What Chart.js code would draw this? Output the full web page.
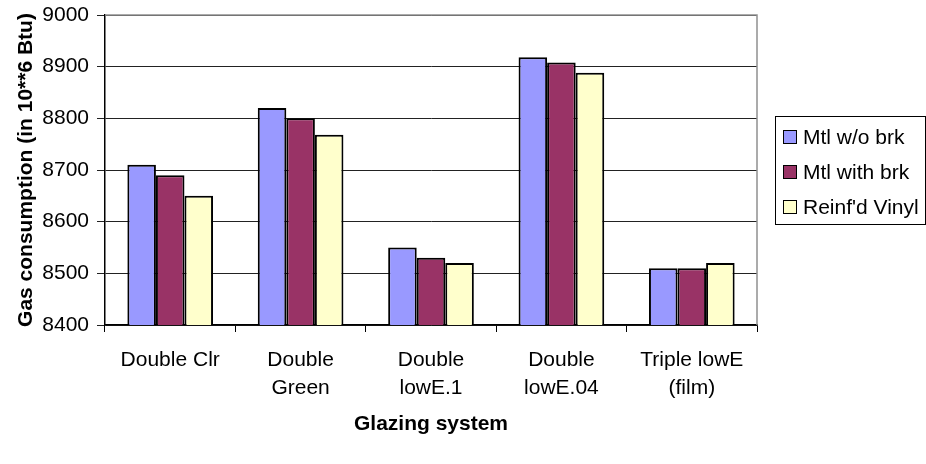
<!DOCTYPE html>
<html>
<head>
<meta charset="utf-8">
<script src="https://cdn.jsdelivr.net/npm/chart.js@4"></script>
<style>
  body { margin: 0; background: #fff; }
  #wrap { position: relative; width: 926px; height: 464px; overflow: hidden; }
  #legend {
    position: absolute; left: 775px; top: 116px; width: 151px; height: 109px;
    border: 1px solid #000; box-sizing: border-box; padding: 2px 0 0 7px;
    font: 21px "Liberation Sans", Arial, sans-serif; color: #000;
  }
  .row { display: flex; align-items: center; height: 35px; white-space: nowrap; }
  .sw { width: 12px; height: 12px; border: 1px solid #000; margin-right: 6px; flex: none; }
</style>
</head>
<body>
<div id="wrap">
  <canvas id="gasChart" width="926" height="464"></canvas>
  <div id="legend"></div>
</div>
<script>
// Data
const categories = [["Double Clr"], ["Double", "Green"], ["Double", "lowE.1"], ["Double", "lowE.04"], ["Triple lowE", "(film)"]];
const seriesNames = ["Mtl w/o brk", "Mtl with brk", "Reinf'd Vinyl"];
const mtlNoBrk = [8710, 8820, 8550, 8918, 8510];
const mtlWithBrk = [8690, 8800, 8530, 8908, 8510];
const reinfVinyl = [8650, 8768, 8520, 8888, 8520];
const yTicks = [8400, 8500, 8600, 8700, 8800, 8900, 9000];
const colors = ["#9999ff", "#993366", "#ffffcc"];

const font = "'Liberation Sans', Arial, sans-serif";

// plot area border on top/right like the original
const plotBorder = {
  id: "plotBorder",
  afterDraw(chart) {
    const { ctx, chartArea: a } = chart;
    ctx.save();
    ctx.strokeStyle = "#909090";
    ctx.lineWidth = 1.5;
    ctx.beginPath();
    ctx.moveTo(a.left, a.top);
    ctx.lineTo(a.right, a.top);
    ctx.lineTo(a.right, a.bottom);
    ctx.stroke();
    ctx.restore();
  }
};

function initGasChart() {
  const ctx = document.getElementById("gasChart").getContext("2d");
  new Chart(ctx, {
    type: "bar",
    data: {
      labels: categories,
      datasets: [mtlNoBrk, mtlWithBrk, reinfVinyl].map((d, i) => ({
        label: seriesNames[i],
        data: d,
        backgroundColor: colors[i],
        borderColor: "#000",
        borderWidth: 2,
        borderSkipped: false,
        categoryPercentage: 0.657,
        barPercentage: 1.0
      }))
    },
    options: {
      responsive: false,
      animation: false,
      layout: { padding: { top: 15, right: 169, left: 0, bottom: 19 } },
      plugins: {
        legend: { display: false },
        tooltip: { enabled: false }
      },
      scales: {
        x: {
          afterFit: axis => { axis.height = 120; },
          grid: { display: true, drawOnChartArea: false, offset: true, color: "#000", tickLength: 7, lineWidth: 1 },
          border: { color: "#000", width: 1.5 },
          ticks: { color: "#000", font: { family: font, size: 21, lineHeight: 1.3 }, padding: 15, maxRotation: 0 },
          title: { display: true, text: "Glazing system", color: "#000", font: { family: font, size: 21, weight: "bold" }, padding: { top: 0, bottom: 8 } }
        },
        y: {
          min: 8400, max: 9000,
          afterFit: axis => { axis.width = 105; axis.paddingTop = 0; axis.paddingBottom = 0; },
          afterBuildTicks: axis => { axis.ticks = yTicks.map(v => ({ value: v })); },
          grid: { color: "#222", tickLength: 8, lineWidth: 1 },
          border: { color: "#000", width: 1.5 },
          ticks: { color: "#000", font: { family: font, size: 21 }, padding: 8, callback: v => String(v) },
          title: { display: true, text: "Gas consumption (in 10**6 Btu)", color: "#000", font: { family: font, size: 21, weight: "bold" }, padding: { top: 14, bottom: 0 } }
        }
      }
    },
    plugins: [plotBorder]
  });

  const legend = document.getElementById("legend");
  seriesNames.forEach((n, i) => {
    const row = document.createElement("div");
    row.className = "row";
    row.innerHTML = '<div class="sw" style="background:' + colors[i] + '"></div>' + n;
    legend.appendChild(row);
  });
}

document.addEventListener("DOMContentLoaded", initGasChart);
</script>
</body>
</html>
